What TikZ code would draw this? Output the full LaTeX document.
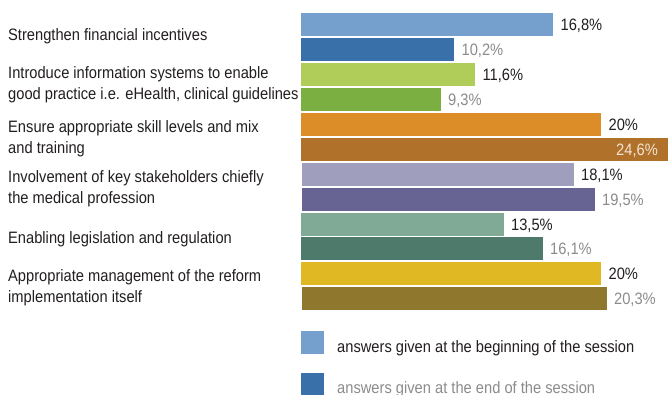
\documentclass[tikz,border=0pt]{standalone}
\usepackage{fontspec}
\setmainfont{Liberation Sans}[FakeStretch=0.89]
\definecolor{ca}{HTML}{759FCD}
\definecolor{cb}{HTML}{3A70A9}
\definecolor{cc}{HTML}{AFCD58}
\definecolor{cd}{HTML}{7CAF42}
\definecolor{ce}{HTML}{DC8D28}
\definecolor{cf}{HTML}{B0712A}
\definecolor{cg}{HTML}{9F9FBD}
\definecolor{ch}{HTML}{676493}
\definecolor{ci}{HTML}{80A996}
\definecolor{cj}{HTML}{4D7A6A}
\definecolor{ck}{HTML}{E0B824}
\definecolor{cl}{HTML}{8F782E}
\definecolor{txt}{HTML}{231F20}
\definecolor{txtgray}{HTML}{8C8C8C}
\definecolor{txtlight}{HTML}{F2E4D4}
\begin{document}
\begin{tikzpicture}[x=1pt,y=-1pt,
  bar/.style={rectangle, inner sep=0pt, minimum height=23pt, anchor=north west},
  txtfont/.style={font=\fontsize{16.5}{21}\selectfont},
  valbeg/.style={txtfont, text=txt, inner sep=0pt, anchor=base west},
  valend/.style={txtfont, text=txtgray, inner sep=0pt, anchor=base west},
  lab/.style={txtfont, text=txt, inner sep=0pt, anchor=base west, align=left},
  legbox/.style={rectangle, inner sep=0pt, minimum width=23pt, minimum height=23pt, anchor=north west}]
\path[use as bounding box, clip] (0,0) rectangle (668,394);
\fill[white] (0,0) rectangle (668,394);
% bars (15 px per %)
\node[bar, fill=ca, minimum width=252pt]   (b1) at (301,13) {};
\node[bar, fill=cb, minimum width=153pt]   (b2) at (301,38) {};
\node[bar, fill=cc, minimum width=174pt]   (b3) at (301,63) {};
\node[bar, fill=cd, minimum width=139.5pt] (b4) at (301,88) {};
\node[bar, fill=ce, minimum width=300pt]   (b5) at (301,113) {};
\node[bar, fill=cf, minimum width=369pt]   (b6) at (301,138) {};
\node[bar, fill=cg, minimum width=271.5pt] (b7) at (302,163) {};
\node[bar, fill=ch, minimum width=292.5pt] (b8) at (302,188) {};
\node[bar, fill=ci, minimum width=202.5pt] (b9) at (301,213) {};
\node[bar, fill=cj, minimum width=241.5pt] (b10) at (301,237) {};
\node[bar, fill=ck, minimum width=300pt]   (b11) at (301,262) {};
\node[bar, fill=cl, minimum width=304.5pt] (b12) at (302,287) {};
% values
\node[valbeg] (v1) at ([xshift=7pt,yshift=-17pt]b1.north east) {16,8\%};
\node[valend] (v2) at ([xshift=7pt,yshift=-17pt]b2.north east) {10,2\%};
\node[valbeg] (v3) at ([xshift=7pt,yshift=-17pt]b3.north east) {11,6\%};
\node[valend] (v4) at ([xshift=7pt,yshift=-17pt]b4.north east) {9,3\%};
\node[valbeg] (v5) at ([xshift=7pt,yshift=-17pt]b5.north east) {20\%};
\node[txtfont, text=txtlight, inner sep=0pt, anchor=base east] (v6) at (658,155) {24,6\%};
\node[valbeg] (v7) at ([xshift=7pt,yshift=-17pt]b7.north east) {18,1\%};
\node[valend] (v8) at ([xshift=7pt,yshift=-17pt]b8.north east) {19,5\%};
\node[valbeg] (v9) at ([xshift=7pt,yshift=-17pt]b9.north east) {13,5\%};
\node[valend] (v10) at ([xshift=7pt,yshift=-17pt]b10.north east) {16,1\%};
\node[valbeg] (v11) at ([xshift=7pt,yshift=-17pt]b11.north east) {20\%};
\node[valend] (v12) at ([xshift=7pt,yshift=-17pt]b12.north east) {20,3\%};
% category labels (base anchor = baseline of the last line)
\node[lab] (l1) at (8,40) {Strengthen financial incentives};
\node[lab] (l2) at (8,99) {Introduce information systems to enable\\good practice i.e. eHealth, clinical guidelines};
\node[lab] (l3) at (8,153) {Ensure appropriate skill levels and mix\\and training};
\node[lab] (l4) at (8,203.5) {Involvement of key stakeholders chiefly\\the medical profession};
\node[lab] (l5) at (8,243) {Enabling legislation and regulation};
\node[lab] (l6) at (8,302.5) {Appropriate management of the reform\\implementation itself};
% legend
\node[legbox, fill=ca] (k1) at (301,331) {};
\node[legbox, fill=cb] (k2) at (301,373) {};
\node[valbeg] (t1) at (337,352) {answers given at the beginning of the session};
\node[valend] (t2) at (337,393.5) {answers given at the end of the session};
\end{tikzpicture}
\end{document}
